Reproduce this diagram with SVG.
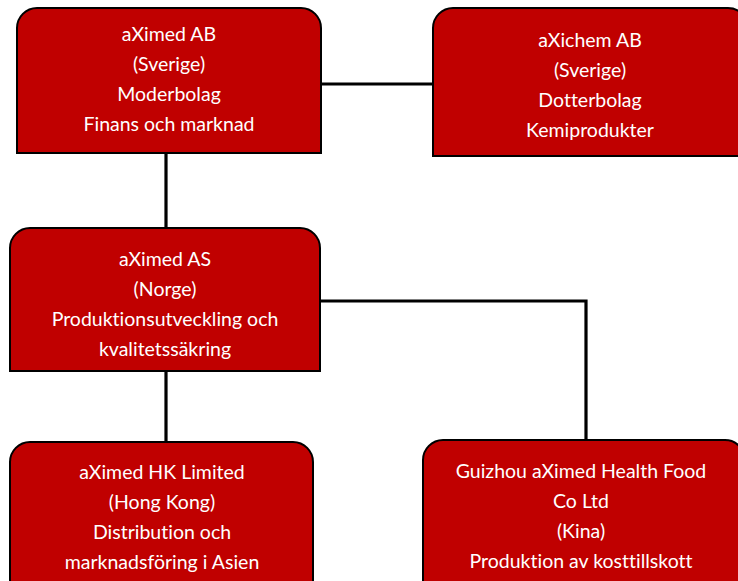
<svg xmlns="http://www.w3.org/2000/svg" width="738" height="581" viewBox="0 0 738 581">
<style>
.box{fill:#C00000;stroke:#000;stroke-width:2}
.t{font-family:Lato,"Liberation Sans",sans-serif;font-size:19.5px;fill:#fff;text-anchor:middle;font-variant-ligatures:none}
.c{fill:none;stroke:#000;stroke-width:3.2}
</style>
<rect width="738" height="581" fill="#fff"/>
<g id="connectors">
<path class="c" d="M321,84H433"/>
<path class="c" d="M166,153V228"/>
<path class="c" d="M166,371V442"/>
<path class="c" d="M320,301H586V440"/>
</g>
<g id="n1">
<path class="box" d="M17,153V28A20,20 0 0 1 37,8H301A20,20 0 0 1 321,28V153Z"/>
<text class="t" x="169" y="41">aXimed AB</text>
<text class="t" x="169" y="71">(Sverige)</text>
<text class="t" x="169" y="101">Moderbolag</text>
<text class="t" x="169" y="131">Finans och marknad</text>
</g>
<g id="n2">
<path class="box" d="M433,156V28A20,20 0 0 1 453,8H728A20,20 0 0 1 748,28V156Z"/>
<text class="t" x="590" y="47">aXichem AB</text>
<text class="t" x="590" y="77">(Sverige)</text>
<text class="t" x="590" y="107">Dotterbolag</text>
<text class="t" x="590" y="137">Kemiprodukter</text>
</g>
<g id="n3">
<path class="box" d="M10,371V248A20,20 0 0 1 30,228H300A20,20 0 0 1 320,248V371Z"/>
<text class="t" x="165" y="266">aXimed AS</text>
<text class="t" x="165" y="296">(Norge)</text>
<text class="t" x="165" y="326">Produktionsutveckling och</text>
<text class="t" x="165" y="356">kvalitetssäkring</text>
</g>
<g id="n4">
<path class="box" d="M10,600V462A20,20 0 0 1 30,442H293A20,20 0 0 1 313,462V600Z"/>
<text class="t" x="162" y="479">aXimed HK Limited</text>
<text class="t" x="162" y="509">(Hong Kong)</text>
<text class="t" x="162" y="539">Distribution och</text>
<text class="t" x="162" y="569">marknadsföring i Asien</text>
</g>
<g id="n5">
<path class="box" d="M423,600V460A20,20 0 0 1 443,440H725A20,20 0 0 1 745,460V600Z"/>
<text class="t" x="581" y="478">Guizhou aXimed Health Food</text>
<text class="t" x="581" y="508">Co Ltd</text>
<text class="t" x="581" y="538">(Kina)</text>
<text class="t" x="581" y="568">Produktion av kosttillskott</text>
</g>
</svg>
